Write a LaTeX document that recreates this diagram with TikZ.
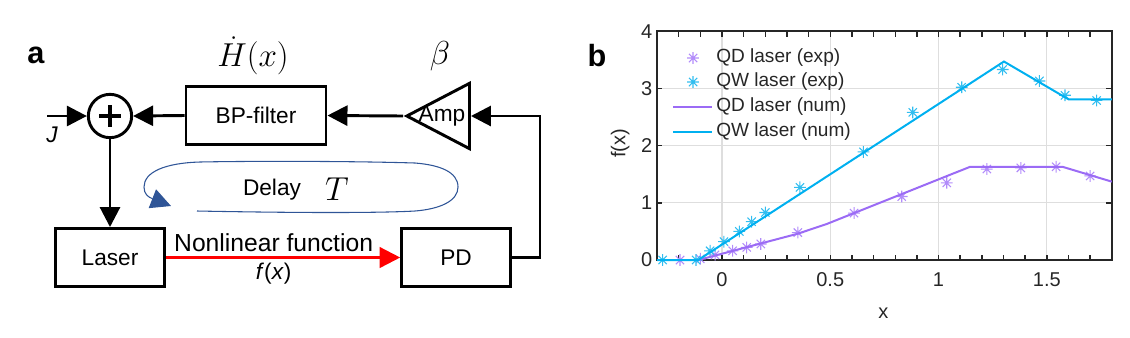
\documentclass[tikz,border=0pt]{standalone}
\usepackage{fontspec}
\setmainfont{Liberation Sans}
\usepackage{amsmath}
\usetikzlibrary{arrows.meta, positioning, shapes.geometric}

\definecolor{qdline}{RGB}{155,107,245}
\definecolor{qdstar}{RGB}{178,140,250}
\definecolor{qwline}{RGB}{0,176,240}
\definecolor{qwstar}{RGB}{50,190,240}
\definecolor{delayblue}{RGB}{47,85,151}
\definecolor{axisgray}{RGB}{38,38,38}
\definecolor{gridgray}{RGB}{222,222,222}

\tikzset{
  block/.style={draw, line width=2.2pt, minimum width=81.5pt, minimum height=43.5pt, inner sep=0pt},
  conn/.style={line width=2.2pt, -{Triangle[length=15pt,width=15pt]}},
  redconn/.style={red, line width=1.9pt, -{Triangle[length=15.5pt,width=15.5pt]}},
  sumnode/.style={circle, draw, line width=2.2pt, minimum size=32.5pt, inner sep=0pt,
    path picture={\draw[line width=3pt]
      ([xshift=-8pt]path picture bounding box.center) -- ([xshift=8pt]path picture bounding box.center)
      ([yshift=-8pt]path picture bounding box.center) -- ([yshift=8pt]path picture bounding box.center);}},
  ampnode/.style={isosceles triangle, isosceles triangle stretches, shape border rotate=180,
    draw, line width=2.2pt, minimum width=49pt, minimum height=47pt, inner sep=0pt},
  bigmath/.style={font=\fontsize{26}{29}\selectfont},
  gridline/.style={gridgray, line width=0.8pt},
  axisline/.style={axisgray, line width=1.1pt},
  ticklabel/.style={axisgray, font=\fontsize{15}{18}\selectfont},
  legendtext/.style={axisgray, anchor=west, inner sep=0pt, font=\fontsize{14.3}{17}\selectfont},
  ast/.pic={\draw[line width=0.8pt]
    (-4.4pt,0) -- (4.4pt,0) (0,-4.4pt) -- (0,4.4pt)
    (-3.1pt,-3.1pt) -- (3.1pt,3.1pt) (-3.1pt,3.1pt) -- (3.1pt,-3.1pt);}
}

\begin{document}
\begin{tikzpicture}[x=0.75pt, y=-0.75pt, font=\fontsize{17}{20}\selectfont]
  \useasboundingbox (0,0) rectangle (1130,337);

  % panel a: feedback loop
  \node[font=\bfseries\fontsize{23}{26}\selectfont] (panela) at (36,55) {a};
  \node[bigmath] (hdot) at (253,56) {$\dot{H}(x)$};
  \node[font=\fontsize{28}{31}\selectfont] (beta) at (440,56) {$\beta$};

  \node[sumnode] (sum) at (110,116) {};
  \node[block, minimum width=105pt, minimum height=43.3pt] (filter) at (256,115.5) {BP-filter};
  \node[ampnode, anchor=apex] (amp) at (403,116) {};
  \node (amplabel) at (442,116) {Amp};
  \node[block] (laser) at (110,257.5) {Laser};
  \node[block] (pd) at (456,257.5) {PD};

  \coordinate (jin) at (47,116);
  \coordinate (turn) at (540,257.5);
  \node[font=\itshape\fontsize{17}{20}\selectfont] (jlabel) at (52,135) {J};

  \draw[conn] (jin) -- (sum.west);
  \draw[conn] (filter.west) -- (sum.east);
  \draw[conn] (amp.apex) -- (filter.east);
  \draw[conn] (pd.east) -- (turn) |- (amp.lower side);
  \draw[conn] (sum.south) -- (laser.north);
  \draw[redconn] (laser.east) --
    node[above, pos=0.46, text=black, font=\fontsize{18.5}{21}\selectfont] (nlf) {Nonlinear function}
    node[below, pos=0.46, text=black] (fx) {\textit{f}(\textit{x})} (pd.west);

  % delay loop
  \draw[delayblue, line width=0.8pt, -{Triangle[length=15pt,width=15pt]}]
    (197,211) .. controls (300,213) and (380,213) .. (415,211)
    .. controls (440,209) and (458,201) .. (458,187)
    .. controls (458,172) and (440,165) .. (415,163)
    .. controls (350,161) and (250,161) .. (200,162)
    .. controls (165,163) and (144,172) .. (144,187)
    .. controls (144,194) and (148,197) .. (171,206);
  \node (delay) at (272,190) {Delay};
  \node[font=\fontsize{28}{31}\selectfont] (delayT) at (337,189) {$T$};

  % panel b: transfer function
  \node[font=\bfseries\fontsize{23}{26}\selectfont] (panelb) at (597,56) {b};
  \begin{scope}[shift={(722,260)}, x=162.4pt, y=42.9pt]
    \foreach \gx in {0,0.5,1,1.5}
      \draw[gridline] (\gx,0) -- (\gx,4);
    \foreach \gy in {1,2,3}
      \draw[gridline] (-0.3,\gy) -- (1.8,\gy);
    \foreach \i in {-2,...,17} {
      \draw[axisline] (\i/10,0) -- ++(0,4pt);
      \draw[axisline] (\i/10,4) -- ++(0,-4pt);
    }
    \foreach \i in {1,2,3} {
      \draw[axisline] (-0.3,\i) -- ++(4pt,0);
      \draw[axisline] (1.8,\i) -- ++(-4pt,0);
    }
    \draw[axisline] (-0.3,0) rectangle (1.8,4);
    \foreach \i in {0,...,4}
      \node[ticklabel, left] at (-0.3,\i) {\i};
    \foreach \lx in {0,0.5,1,1.5}
      \node[ticklabel, below=6pt] at (\lx,0) {\lx};
    \node[ticklabel] (xlabel) at (0.745,-0.93) {x};
    \node[ticklabel, rotate=90] (ylabel) at (-0.47,2.04) {f(x)};

    % measured points
    \foreach \px/\py in {-0.194/0, -0.10/0.02, -0.032/0.09, 0.049/0.16, 0.114/0.22,
        0.179/0.28, 0.35/0.48, 0.61/0.82, 0.83/1.11, 1.038/1.35, 1.223/1.59,
        1.38/1.61, 1.543/1.63, 1.70/1.47}
      \pic[color=qdstar] at (\px,\py) {ast};
    \foreach \px/\py in {-0.274/0, -0.12/0, -0.055/0.16, 0.009/0.32, 0.08/0.50,
        0.137/0.67, 0.20/0.83, 0.36/1.27, 0.653/1.89, 0.881/2.58, 1.107/3.02,
        1.296/3.33, 1.466/3.13, 1.584/2.88, 1.73/2.79}
      \pic[color=qwstar] at (\px,\py) {ast};

    % numerical curves
    \draw[qdline, line width=1.5pt] plot coordinates {(-0.11,0) (0.1,0.21) (0.35,0.46)
      (0.484,0.63) (1.146,1.63) (1.572,1.63) (1.8,1.37)};
    \draw[qwline, line width=1.5pt] plot coordinates {(-0.3,0) (-0.11,0) (1.302,3.47)
      (1.60,2.81) (1.8,2.81)};
  \end{scope}

  % legend
  \pic[color=qdstar] at (693,58) {ast};
  \pic[color=qwstar] at (693,82) {ast};
  \draw[qdline, line width=1.5pt] (673,107) -- (712,107);
  \draw[qwline, line width=1.5pt] (673,131.5) -- (712,131.5);
  \node[legendtext] (leg1) at (716,58) {QD laser (exp)};
  \node[legendtext] (leg2) at (716,82) {QW laser (exp)};
  \node[legendtext] (leg3) at (716,107) {QD laser (num)};
  \node[legendtext] (leg4) at (716,131.5) {QW laser (num)};
\end{tikzpicture}
\end{document}
